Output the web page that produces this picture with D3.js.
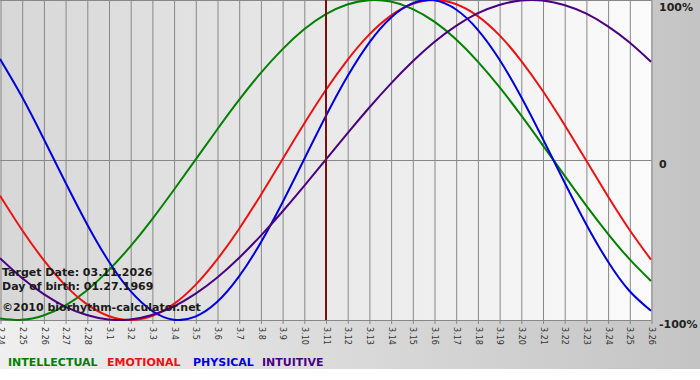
<!DOCTYPE html>
<html><head><meta charset="utf-8">
<script src="https://cdn.jsdelivr.net/npm/d3@7"></script>
<style>html,body{margin:0;padding:0;background:#fff;}svg{display:block;}</style>
</head><body>
<script>
const days = ["2.24","2.25","2.26","2.27","2.28","3.1","3.2","3.3","3.4","3.5","3.6","3.7","3.8","3.9","3.10","3.11","3.12","3.13","3.14","3.15","3.16","3.17","3.18","3.19","3.20","3.21","3.22","3.23","3.24","3.25","3.26"];
const intellectual = [-99.0,-99.9,-97.2,-91.0,-81.5,-69.0,-54.1,-37.2,-18.9,0,18.9,37.2,54.1,69.0,81.5,91.0,97.2,99.9,99.0,94.5,86.6,75.6,61.8,45.8,28.2,9.5,-9.5,-28.2,-45.8,-61.8,-75.6];
const emotional = [-22.3,-43.4,-62.3,-78.2,-90.1,-97.5,-100,-97.5,-90.1,-78.2,-62.3,-43.4,-22.3,0,22.3,43.4,62.3,78.2,90.1,97.5,100,97.5,90.1,78.2,62.3,43.4,22.3,0,-22.3,-43.4,-62.3];
const physical = [63.1,39.8,13.6,-13.6,-39.8,-63.1,-81.7,-94.2,-99.8,-97.9,-88.8,-73.1,-52.0,-27.0,0,27.0,52.0,73.1,88.8,97.9,99.8,94.2,81.7,63.1,39.8,13.6,-13.6,-39.8,-63.1,-81.7,-94.2];
const intuitive = [-61.4,-73.6,-83.7,-91.6,-96.9,-99.7,-99.7,-96.9,-91.6,-83.7,-73.6,-61.4,-47.6,-32.5,-16.5,0,16.5,32.5,47.6,61.4,73.6,83.7,91.6,96.9,99.7,99.7,96.9,91.6,83.7,73.6,61.4];
const yTicks = [100, 0, -100];
const yTickLabels = ["100%", "0", "-100%"];
const targetDay = "3.11";
const infoLines = ["Target Date: 03.11.2026", "Day of birth: 01.27.1969"];
const copyright = "\u00A92010 biorhythm-calculator.net";
const seriesNames = ["INTELLECTUAL", "EMOTIONAL", "PHYSICAL", "INTUITIVE"];
const seriesColors = ["#008000", "#ee1111", "#0000dd", "#4b0082"];
const seriesData = [intellectual, emotional, physical, intuitive];

const W = 700, H = 380;
const plotW = 651, plotH = 320;
const svg = d3.select("body").append("svg").attr("width", W).attr("height", H);
const defs = svg.append("defs");
const bgGrad = defs.append("linearGradient").attr("id","bg").attr("x1","0").attr("x2","1").attr("y1","0").attr("y2","0");
bgGrad.append("stop").attr("offset","0").attr("stop-color","#efefef");
bgGrad.append("stop").attr("offset","1").attr("stop-color","#c4c4c4");
const plGrad = defs.append("linearGradient").attr("id","pl").attr("x1","0").attr("x2","1").attr("y1","0").attr("y2","0");
plGrad.append("stop").attr("offset","0").attr("stop-color","#d7d7d7");
plGrad.append("stop").attr("offset","1").attr("stop-color","#fbfbfb");
defs.append("clipPath").attr("id","clip").append("rect").attr("x",0).attr("y",0).attr("width",plotW+1).attr("height",plotH+1);

svg.append("rect").attr("x",0).attr("y",0).attr("width",W).attr("height",369).attr("fill","url(#bg)");
svg.append("rect").attr("x",0).attr("y",0).attr("width",plotW).attr("height",plotH).attr("fill","url(#pl)");

const x = d3.scalePoint().domain(days).range([0, plotW]);
const y = d3.scaleLinear().domain([-100, 100]).range([plotH, 0]);

// vertical grid + bottom labels
const xAxis = svg.append("g").attr("transform", `translate(0.5,${plotH + 4})`)
  .call(d3.axisBottom(x).tickSize(-(plotH + 4)).tickSizeOuter(0));
xAxis.select(".domain").remove();
xAxis.selectAll(".tick line").attr("stroke", "#888").attr("stroke-width", 1);
xAxis.selectAll(".tick text")
  .attr("transform", "rotate(90)")
  .attr("x", 3).attr("y", 0).attr("dy", "0.35em")
  .style("text-anchor", "start")
  .attr("fill", "#333")
  .style("font-family", "DejaVu Sans, Verdana, sans-serif")
  .style("font-size", "8px");

// horizontal grid
svg.append("g").selectAll("line").data(yTicks).join("line")
  .attr("x1", 0).attr("x2", plotW + 0.5)
  .attr("y1", d => Math.min(Math.round(y(d)), plotH) + 0.5)
  .attr("y2", d => Math.min(Math.round(y(d)), plotH) + 0.5)
  .attr("stroke", "#888").attr("stroke-width", 1);

// right labels
svg.append("g").selectAll("text").data(yTicks).join("text")
  .attr("x", 659)
  .attr("y", d => Math.max(y(d), 3) + 4)
  .attr("dy", "0.35em")
  .text((d,i) => yTickLabels[i])
  .attr("fill", "#222")
  .style("font-family", "DejaVu Sans, Verdana, sans-serif")
  .style("font-weight", "bold")
  .style("font-size", "11px");

// curves
const line = d3.line().x((d,i) => x(days[i])).y(d => y(d)).curve(d3.curveNatural);
const curves = svg.append("g").attr("clip-path", "url(#clip)");
curves.selectAll("path").data(seriesData).join("path")
  .attr("d", d => line(d))
  .attr("fill", "none")
  .attr("stroke", (d,i) => seriesColors[i])
  .attr("stroke-width", 2);

// target marker
svg.append("line")
  .attr("x1", x(targetDay) + 0.5).attr("x2", x(targetDay) + 0.5)
  .attr("y1", 0).attr("y2", plotH)
  .attr("stroke", "#7a1010").attr("stroke-width", 2);

// info text
const info = svg.append("g")
  .style("font-family", "DejaVu Sans, Verdana, sans-serif")
  .style("font-weight", "bold")
  .style("font-size", "11px")
  .attr("fill", "#1a1a1a");
info.selectAll("text.line").data(infoLines).join("text").attr("class","line")
  .attr("x", 2).attr("y", (d,i) => 276 + i * 14).text(d => d);
info.append("text").attr("x", 2).attr("y", 311).text(copyright);

// legend
const legendX = [8, 107, 193, 262];
svg.append("g").selectAll("text").data(seriesNames).join("text")
  .attr("x", (d,i) => legendX[i]).attr("y", 366)
  .text(d => d)
  .attr("fill", (d,i) => seriesColors[i])
  .style("font-family", "DejaVu Sans, Verdana, sans-serif")
  .style("font-weight", "bold")
  .style("font-size", "11px");
</script>
</body></html>
